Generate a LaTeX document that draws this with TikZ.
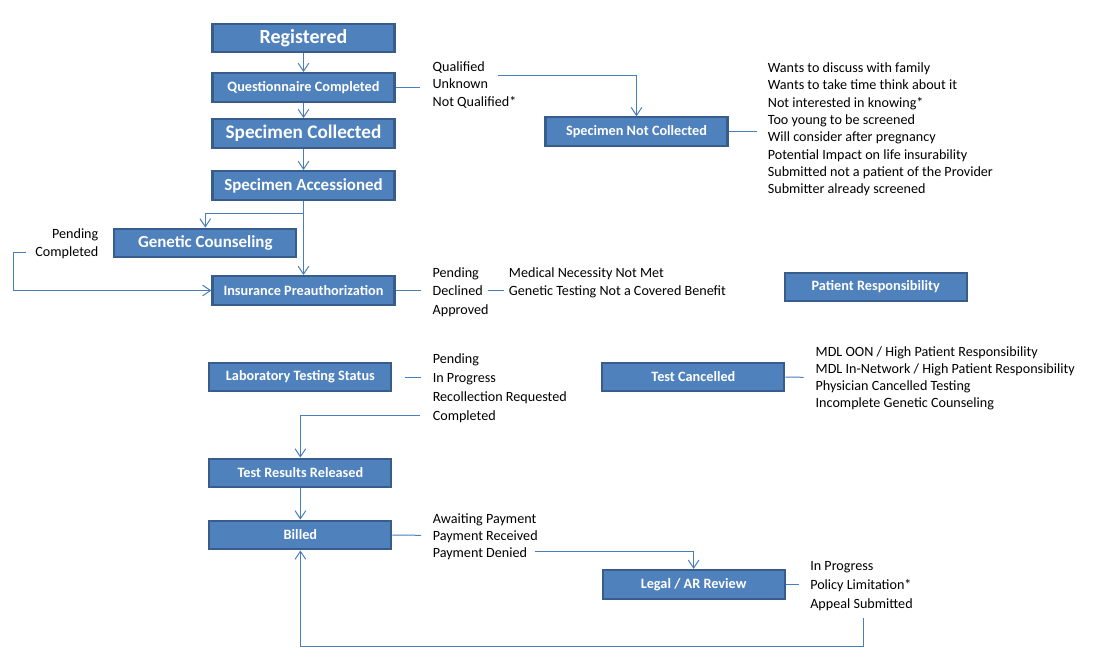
\documentclass[tikz,border=0pt]{standalone}
\usepackage{fontspec}
\setmainfont{Carlito}
\usetikzlibrary{arrows.meta}
\definecolor{boxfill}{HTML}{4F81BD}
\definecolor{boxline}{HTML}{385D8A}
\definecolor{connc}{HTML}{4A7EBB}
\begin{document}
\begin{tikzpicture}[x=0.75pt,y=-0.75pt,
 box/.style={draw=boxline, line width=1.6pt, fill=boxfill, text=white,
   font=\bfseries\fontsize{10.7}{12}\selectfont,
   minimum width=136.5pt, minimum height=21.5pt, inner sep=0pt},
 bigbox/.style={box, font=\bfseries\fontsize{12.7}{14}\selectfont},
 conn/.style={draw=connc, line width=0.75pt},
 arr/.style={conn, -{Straight Barb[length=6pt,width=8pt]}},
 item/.style={font=\fontsize{10.6}{12}\selectfont, anchor=base west, inner sep=0pt, yshift=-1pt},
 itemr/.style={item, anchor=base east},
]
\useasboundingbox (0,0) rectangle (1099,665);

% boxes
\node[box, font=\bfseries\fontsize{15}{17}\selectfont] (reg) at (303.5,38) {Registered};
\node[box] (qc) at (303.5,87.5) {Questionnaire Completed};
\node[bigbox, font=\bfseries\fontsize{14.4}{16}\selectfont] (sc) at (303.5,133.5) {Specimen Collected};
\node[bigbox] (sa) at (303.5,185.5) {Specimen Accessioned};
\node[bigbox] (gc) at (205.3,243) {Genetic Counseling};
\node[box] (ip) at (303.5,290.5) {Insurance Preauthorization};
\node[box] (snc) at (636.5,131.7) {Specimen Not Collected};
\node[box] (pr) at (875.7,287) {Patient Responsibility};
\node[box] (lts) at (300.4,377) {Laboratory Testing Status};
\node[box] (tc) at (693.4,377) {Test Cancelled};
\node[box] (trr) at (300.4,473) {Test Results Released};
\node[box] (bil) at (300.4,535) {Billed};
\node[box] (lar) at (693.6,584.3) {Legal / AR Review};

% lists
\foreach \t [count=\i] in {Qualified, Unknown, Not Qualified*}
  \node[item] (qa\i) at (432.4,{70+17.5*(\i-1)}) {\t};
\foreach \t [count=\i] in {Wants to discuss with family, Wants to take time think about it,
  Not interested in knowing*, Too young to be screened, Will consider after pregnancy,
  Potential Impact on life insurability, Submitted not a patient of the Provider,
  Submitter already screened}
  \node[item] (sn\i) at (767.6,{71.3+17.3*(\i-1)}) {\t};
\node[itemr] (gcp) at (98.6,236.7) {Pending};
\node[itemr] (gcc) at (98.6,255.3) {Completed};
\foreach \t [count=\i] in {Pending, Declined, Approved}
  \node[item] (ia\i) at (432.4,{275.7+18.8*(\i-1)}) {\t};
\node[item] (md1) at (508.7,275.7) {Medical Necessity Not Met};
\node[item] (md2) at (508.7,294.3) {Genetic Testing Not a Covered Benefit};
\foreach \t [count=\i] in {Pending, In Progress, Recollection Requested, Completed}
  \node[item] (la\i) at (432.5,{361.7+19*(\i-1)}) {\t};
\foreach \t [count=\i] in {MDL OON / High Patient Responsibility,
  MDL In-Network / High Patient Responsibility, Physician Cancelled Testing,
  Incomplete Genetic Counseling}
  \node[item] (tl\i) at (815.4,{354.7+17.3*(\i-1)}) {\t};
\foreach \t [count=\i] in {Awaiting Payment, Payment Received, Payment Denied}
  \node[item] (ba\i) at (432.5,{521.7+17.3*(\i-1)}) {\t};
\foreach \t [count=\i] in {In Progress, Policy Limitation*, Appeal Submitted}
  \node[item] (lg\i) at (810,{568.7+19.3*(\i-1)}) {\t};

% coordinates
\coordinate (sabr) at (303.5,213.3);
\coordinate (cl) at (25.6,252.3);
\coordinate (clc) at (13.3,252.3);
\coordinate (qs) at (420.4,87.5);
\coordinate (qline) at (497.5,75.3);
\coordinate (sncs) at (757,131.7);
\coordinate (ips) at (420.7,290.5);
\coordinate (dc1) at (488,290.3);
\coordinate (dc2) at (503.7,290.3);
\coordinate (lt1) at (404.5,377.5);
\coordinate (lt2) at (421,377.5);
\coordinate (lcom) at (420,415.7);
\coordinate (bils) at (421,535.3);
\coordinate (pd) at (535,551.3);
\coordinate (tcs) at (803.5,377.3);
\coordinate (lars) at (798.6,584.3);
\coordinate (bl1) at (863.4,618.3);
\coordinate (bl2) at (863.4,646.7);

% connectors
\draw[arr] (reg) -- (qc);
\draw[arr] (qc) -- (sc);
\draw[arr] (sc) -- (sa);
\draw[arr] (sa) -- (ip);
\draw[arr] (sabr) -| (gc);
\draw[arr] (cl) -- (clc) |- (ip);
\draw[conn] (qc.east) -- (qs);
\draw[arr] (qline) -| (snc);
\draw[conn] (snc.east) -- (sncs);
\draw[conn] (ip.east) -- (ips);
\draw[conn] (dc1) -- (dc2);
\draw[conn] (lt1) -- (lt2);
\draw[arr] (lcom) -| (trr);
\draw[arr] (trr) -- (bil);
\draw[conn] (bil.east) -- (bils);
\draw[arr] (pd) -| (lar);
\draw[conn] (tc.east) -- (tcs);
\draw[conn] (lar.east) -- (lars);
\draw[arr] (bl1) -- (bl2) -| (bil);
\end{tikzpicture}
\end{document}
